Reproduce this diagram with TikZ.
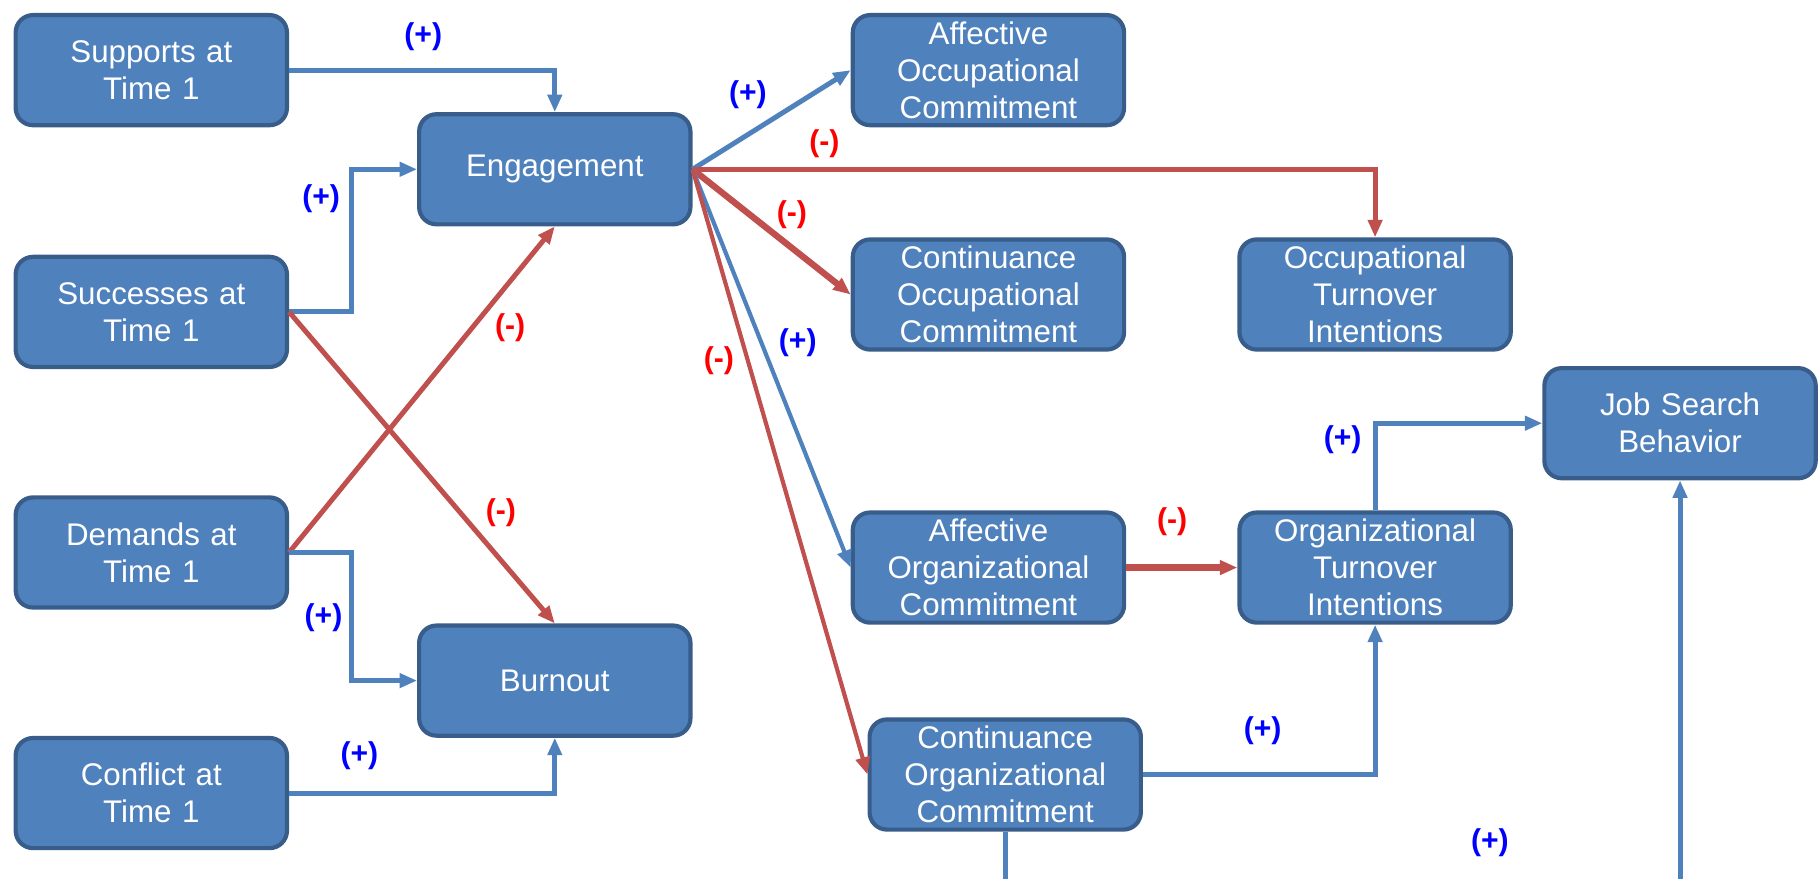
\documentclass[tikz,border=0pt]{standalone}
\usepackage{fontspec}
\setmainfont{Liberation Sans}
\usetikzlibrary{arrows.meta}
\definecolor{boxfill}{HTML}{4F81BD}
\definecolor{boxline}{HTML}{385D8A}
\definecolor{posline}{HTML}{4F81BD}
\definecolor{negline}{HTML}{C0504D}
\definecolor{poslab}{HTML}{0000FF}
\definecolor{neglab}{HTML}{FF0000}
\tikzset{
  box/.style={draw=boxline, line width=3.6pt, fill=boxfill, rounded corners=15pt,
    minimum width=234pt, minimum height=95pt, inner sep=0pt, text width=232pt,
    align=center, text=white, font=\fontsize{27}{32}\selectfont},
  arrtip/.style={-{Triangle[length=15pt,width=12pt]}},
  posarr/.style={arrtip, draw=posline, line width=4.3pt},
  negarr/.style={arrtip, draw=negline, line width=4.3pt},
  plab/.style={text=poslab, font=\bfseries\fontsize{26}{30}\selectfont, inner sep=0pt},
  nlab/.style={text=neglab, font=\bfseries\fontsize{26}{30}\selectfont, inner sep=0pt},
}
\begin{document}
\begin{tikzpicture}[x=1pt,y=-1pt]
\useasboundingbox (0,0) rectangle (1568,758);
% nodes
\node[box] (sup) at (130.5,60.5) {Supports at\\Time 1};
\node[box] (eng) at (478.5,146) {Engagement};
\node[box] (suc) at (130.5,269) {Successes at\\Time 1};
\node[box] (dem) at (130.5,476.5) {Demands at\\Time 1};
\node[box] (bur) at (478.5,587) {Burnout};
\node[box] (con) at (130.5,684) {Conflict at\\Time 1};
\node[box] (aocc) at (852.5,60.5) {Affective\\Occupational\\Commitment};
\node[box] (cocc) at (852.5,254) {Continuance\\Occupational\\Commitment};
\node[box] (octi) at (1186,254) {Occupational\\Turnover\\Intentions};
\node[box] (job) at (1449,365) {Job Search\\Behavior};
\node[box] (aorg) at (852.5,489.5) {Affective\\Organizational\\Commitment};
\node[box] (orti) at (1186,489.5) {Organizational\\Turnover\\Intentions};
\node[box] (corg) at (867,668) {Continuance\\Organizational\\Commitment};
\coordinate (corgout) at (867,762);
\coordinate (jobin) at (1449,762);
% connectors
\draw[posarr] (sup.east) -| (eng.north);
\draw[posarr] (suc.east) -- ++(54,0) |- (eng.west);
\draw[negarr] (dem.east) -- (eng.south);
\draw[negarr] (suc.east) -- (bur.north);
\draw[posarr] (dem.east) -- ++(54,0) |- (bur.west);
\draw[posarr] (con.east) -| (bur.south);
\draw[posarr] (eng.east) -- (aocc.west);
\draw[negarr] (eng.east) -| (octi.north);
\draw[negarr, line width=5.5pt] (eng.east) -- (cocc.west);
\draw[posarr, line width=3.6pt] (eng.east) -- (aorg.west);
\draw[negarr, line width=3.6pt] (eng.east) -- (corg.west);
\draw[negarr, line width=5.5pt] (aorg.east) -- (orti.west);
\draw[posarr] (orti.north) |- (job.west);
\draw[posarr] (corg.east) -| (orti.south);
\draw[draw=posline, line width=4.3pt] (corg.south) -- (corgout);
\draw[posarr] (jobin) -- (job.south);
% labels
\node[plab] (l1) at (365,32) {(+)};
\node[plab] (l2) at (277,171) {(+)};
\node[nlab] (l3) at (440,283) {(-)};
\node[nlab] (l4) at (432,442) {(-)};
\node[plab] (l5) at (279,533) {(+)};
\node[plab] (l6) at (310,652) {(+)};
\node[plab] (l7) at (645,82) {(+)};
\node[nlab] (l8) at (711,124) {(-)};
\node[nlab] (l9) at (683,185) {(-)};
\node[plab] (l10) at (688,296) {(+)};
\node[nlab] (l11) at (620,311) {(-)};
\node[nlab] (l12) at (1011,450) {(-)};
\node[plab] (l13) at (1158,379) {(+)};
\node[plab] (l14) at (1089,630) {(+)};
\node[plab] (l15) at (1285,727) {(+)};
\end{tikzpicture}
\end{document}
